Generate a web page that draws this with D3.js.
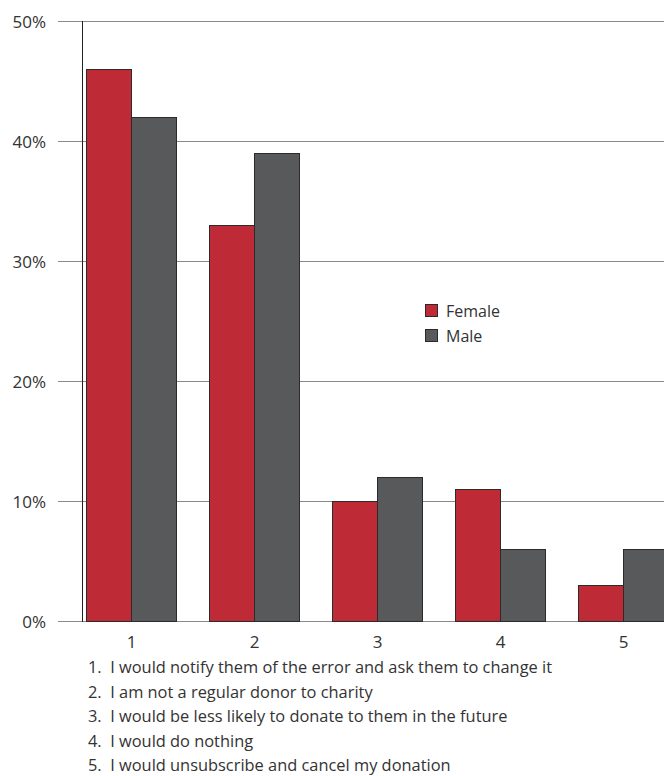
<!DOCTYPE html>
<html>
<head>
<meta charset="utf-8">
<script src="https://cdn.jsdelivr.net/npm/d3@7"></script>
<style>
  body { margin: 0; background: #fff; }
  svg { display: block; font-family: "Open Sans", sans-serif; }
  .tick-label { font-size: 17px; fill: #333; }
  .legend-label { font-size: 16px; fill: #333; }
  .note { font-size: 16.4px; fill: #333; }
</style>
</head>
<body>
<div id="chart"></div>
<script>
var categories = ["1", "2", "3", "4", "5"];
var series = ["Female", "Male"];
var female = [46, 33, 10, 11, 3];
var male = [42, 39, 12, 6, 6];
var yTicks = [0, 10, 20, 30, 40, 50];
var notes = [
    "1.  I would notify them of the error and ask them to change it",
    "2.  I am not a regular donor to charity",
    "3.  I would be less likely to donate to them in the future",
    "4.  I would do nothing",
    "5.  I would unsubscribe and cancel my donation"
];
var colors = ["#be2b37", "#58595b"];

var width = 664, height = 776;

var svg = d3.select("#chart").append("svg")
    .attr("width", width)
    .attr("height", height);

// scales
var x = d3.scalePoint().domain(categories).range([131.5, 623.5]);
var y = d3.scaleLinear().domain([0, 50]).range([621, 21]);
var barW = 45;

// gridlines
svg.append("g").selectAll("line")
    .data(yTicks)
    .join("line")
    .attr("x1", 58)
    .attr("x2", width)
    .attr("y1", function(d) { return y(d) + 0.5; })
    .attr("y2", function(d) { return y(d) + 0.5; })
    .attr("stroke", "#8a8a8a")
    .attr("stroke-width", 1.2);

// y labels
svg.append("g").selectAll("text")
    .data(yTicks)
    .join("text")
    .attr("class", "tick-label")
    .attr("x", 46)
    .attr("y", function(d) { return y(d) + 6.5; })
    .attr("text-anchor", "end")
    .text(function(d) { return d + "%"; });

// bars
var data = categories.map(function(c, i) {
    return { cat: c, vals: [female[i], male[i]] };
});

var groups = svg.append("g").selectAll("g")
    .data(data)
    .join("g");

groups.selectAll("rect")
    .data(function(d) {
        return d.vals.map(function(v, j) { return { cat: d.cat, v: v, j: j }; });
    })
    .join("rect")
    .attr("x", function(d) { return x(d.cat) - barW + d.j * barW; })
    .attr("y", function(d) { return y(d.v) + 0.5; })
    .attr("width", barW)
    .attr("height", function(d) { return y(0) - y(d.v); })
    .attr("fill", function(d) { return colors[d.j]; })
    .attr("stroke", "#2b2b2b")
    .attr("stroke-width", 1);

// y axis line
svg.append("line")
    .attr("x1", 82.5).attr("x2", 82.5)
    .attr("y1", y(50)).attr("y2", y(0) + 1)
    .attr("stroke", "#222")
    .attr("stroke-width", 1);

// x labels
svg.append("g").selectAll("text")
    .data(categories)
    .join("text")
    .attr("class", "tick-label")
    .attr("x", function(d) { return x(d); })
    .attr("y", 648)
    .attr("text-anchor", "middle")
    .text(function(d) { return d; });

// legend
var legend = svg.append("g").attr("transform", "translate(425,304)");
series.forEach(function(s, i) {
    legend.append("rect")
        .attr("x", 0.5).attr("y", i * 25 + 0.5)
        .attr("width", 12).attr("height", 12)
        .attr("fill", colors[i])
        .attr("stroke", "#2b2b2b");
    legend.append("text")
        .attr("class", "legend-label")
        .attr("x", 21).attr("y", i * 25 + 12.5)
        .text(s);
});

// footnotes
svg.append("g").selectAll("text")
    .data(notes)
    .join("text")
    .attr("class", "note")
    .attr("x", 88)
    .attr("y", function(d, i) { return 673 + i * 24.6; })
    .attr("xml:space", "preserve")
    .style("white-space", "pre")
    .text(function(d) { return d; });
</script>
</body>
</html>
